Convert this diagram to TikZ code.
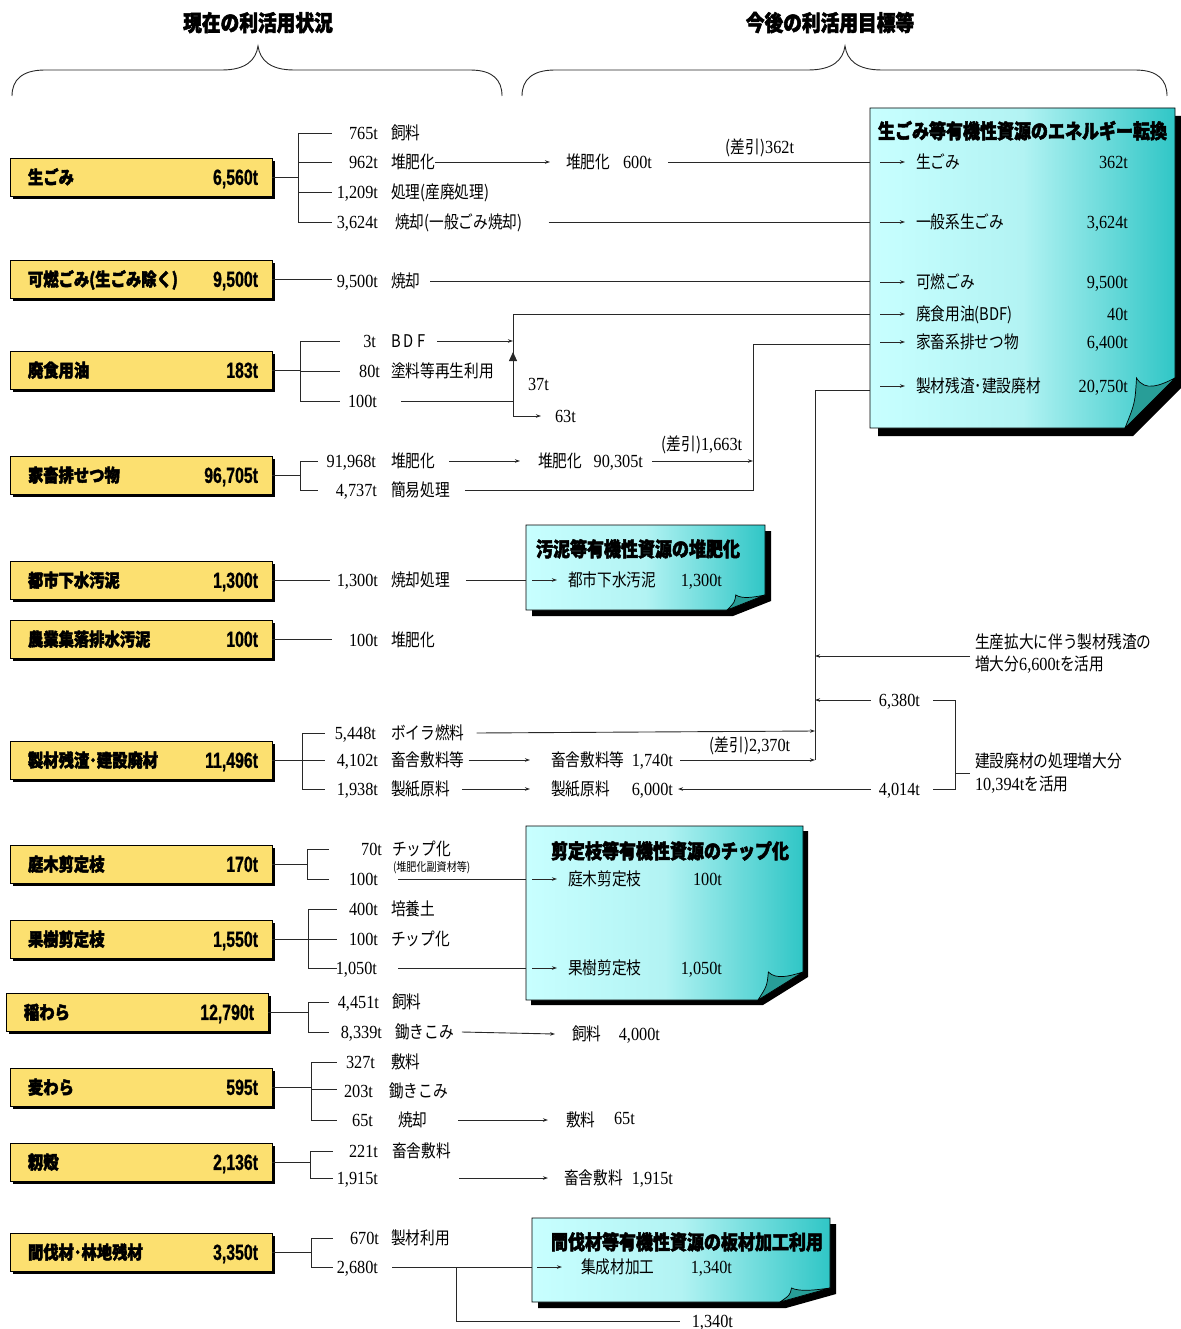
\documentclass[tikz,border=0pt]{standalone}
\usepackage{fontspec}
\usetikzlibrary{arrows.meta,shadows}
\newfontfamily\JPf[FakeStretch=0.84]{Noto Sans CJK JP}
\newfontfamily\JPbf[FakeStretch=0.85,FakeBold=2.4]{Noto Sans CJK JP}
\newfontfamily\NUMf[FakeStretch=0.88]{Liberation Serif}
\newfontfamily\NUMbf[FakeStretch=0.72,FakeBold=0.8]{Liberation Sans}
\newcommand\fJ{\JPf\fontsize{17.5}{17.5}\selectfont}
\newcommand\fJs{\JPf\fontsize{12}{12}\selectfont}
\newcommand\fN{\NUMf\fontsize{18.5}{18.5}\selectfont}
\newcommand\fYB{\JPbf\bfseries\fontsize{18}{18}\selectfont}
\newcommand\fYN{\NUMbf\bfseries\fontsize{22}{22}\selectfont}
\newcommand\fT{\JPbf\bfseries\fontsize{20}{20}\selectfont}
\newcommand\fH{\JPbf\bfseries\fontsize{22}{22}\selectfont}
\definecolor{yfill}{RGB}{252,224,112}
\definecolor{tl}{RGB}{200,255,255}
\definecolor{tm}{RGB}{178,243,243}
\definecolor{tr}{RGB}{48,198,198}
\definecolor{tf}{RGB}{40,158,152}
\definecolor{lnc}{RGB}{40,40,40}

\newcommand\ybx[5]{%
  \node[ybox] (#1) at (#2,#3) {};
  \node[ylab] (#1L) at ([xshift=18pt]#1.west) {#4};
  \node[yval] (#1V) at ([xshift=-14pt]#1.east) {#5};
}
\newcommand\bracket[6]{%
  \coordinate (#1T) at (#2,#3); \coordinate (#1B) at (#2,#4);
  \draw[ln] (#1T) -- (#1B);
  \draw[ln] (#1.east) -- (#1.east -| #1T);
  \foreach \yy [count=\i] in {#5} {
    \coordinate (#1a\i) at (#2,\yy); \coordinate (#1b\i) at (#6,\yy);
    \draw[ln] (#1a\i) -- (#1b\i);
  }
}
\newcommand\nl[6]{%
  \node[nm] (#1n) at (#2,#3) {#4};
  \node[jl] (#1l) at (#5,#3) {#6};
}
\newcommand\tealbox[8]{%
  \fill[black] ({#2+#8},{#3+#8}) -- ({#4+#8},{#3+#8}) -- ({#4+#8},{#5-#7+#8}) -- ({#4-#6+#8},{#5+#8}) -- ({#2+#8},{#5+#8}) -- cycle;
  \shadedraw[left color=tl,right color=tr,middle color=tm,draw=black,line width=0.8pt]
    (#2,#3) -- (#4,#3) -- (#4,{#5-#7}) -- ({#4-#6},#5) -- (#2,#5) -- cycle;
  \filldraw[fill=tf,draw=black,line width=0.7pt]
    ({#4-0.77*#6},{#5-#7}) .. controls ({#4-0.6*#6},{#5-0.72*#7}) and ({#4-0.3*#6},{#5-0.85*#7}) .. (#4,{#5-#7})
    -- ({#4-#6},#5) .. controls ({#4-0.8*#6},{#5-0.5*#7}) .. ({#4-0.77*#6},{#5-#7}) -- cycle;
  \coordinate (#1) at (#2,{(#3+#5)/2});
}
\newcommand\ent[6]{%
  \coordinate (#1a) at (#2,#3); \coordinate (#1b) at ({#2+25},#3);
  \draw[ar] (#1a) -- (#1b);
  \node[jl] (#1l) at ({#2+36},#3) {#4};
  \node[nm] (#1n) at (#5,#3) {#6};
}

\begin{document}
\begin{tikzpicture}[x=1pt,y=-1pt,
  tb/.style={inner sep=0pt,outer sep=0pt},
  ln/.style={line width=0.9pt,draw=lnc},
  ar/.style={ln,-{Stealth[length=5pt,width=3.5pt]}},
  jl/.style={tb,anchor=west,font=\fJ,text height=14.5pt,text depth=1pt},
  jls/.style={tb,anchor=west,font=\fJs,text height=10pt,text depth=1pt},
  nm/.style={tb,anchor=east,font=\fN,text height=12.5pt,text depth=0pt},
  nmw/.style={nm,anchor=west},
  nmc/.style={nm,anchor=center},
  ybox/.style={tb,draw=black,line width=0.8pt,fill=yfill,minimum width=262pt,minimum height=38pt,
     drop shadow={shadow xshift=3pt,shadow yshift=-3pt,fill=black,opacity=1}},
  ylab/.style={tb,anchor=west,font=\fYB,text height=15pt,text depth=1pt},
  yval/.style={tb,anchor=east,font=\fYN,text height=15.8pt,text depth=0pt},
  ttl/.style={tb,anchor=west,font=\fT,text height=16.5pt,text depth=1.5pt},
  hd/.style={tb,anchor=center,font=\fH,text height=18pt,text depth=2pt}]
\useasboundingbox (0,0) rectangle (1180,1329);

% headings and braces
\node[hd] (H1) at (258,23) {現在の利活用状況};
\node[hd] (H2) at (830,23) {今後の利活用目標等};
\draw[ln] (12,96) .. controls (12,80) and (22,70) .. (45,70) -- (222,70) .. controls (246,70) and (256,60) .. (258,46)
  .. controls (260,60) and (270,70) .. (294,70) -- (470,70) .. controls (493,70) and (502,80) .. (502,96);
\draw[ln] (522,96) .. controls (522,80) and (532,70) .. (555,70) -- (808,70) .. controls (833,70) and (843,60) .. (845,46)
  .. controls (847,60) and (857,70) .. (882,70) -- (1135,70) .. controls (1158,70) and (1167,80) .. (1167,96);

% teal boxes
\tealbox{big}{870}{108}{1175}{428}{50}{50}{8}
\tealbox{s1}{526}{525}{765}{610}{38}{15}{6}
\tealbox{s2}{526}{826}{803}{1000}{45}{28}{5}
\tealbox{s3}{532}{1218}{830}{1302}{50}{14}{6}

\node[ttl] (bigT) at (878,131) {生ごみ等有機性資源のエネルギー転換};
\ent{q1}{880}{162}{生ごみ}{1128}{362t}
\ent{q2}{880}{222}{一般系生ごみ}{1128}{3,624t}
\ent{q3}{880}{282}{可燃ごみ}{1128}{9,500t}
\ent{q4}{880}{314}{廃食用油(BDF)}{1128}{40t}
\ent{q5}{880}{342}{家畜系排せつ物}{1128}{6,400t}
\ent{q6}{880}{386}{製材残渣･建設廃材}{1128}{20,750t}

\node[ttl] (s1T) at (536,549) {汚泥等有機性資源の堆肥化};
\ent{r1}{532}{580}{都市下水汚泥}{722}{1,300t}
\node[ttl] (s2T) at (551,851) {剪定枝等有機性資源のチップ化};
\ent{r2}{532}{879}{庭木剪定枝}{722}{100t}
\ent{r3}{532}{968}{果樹剪定枝}{722}{1,050t}
\node[ttl] (s3T) at (551,1242) {間伐材等有機性資源の板材加工利用};
\coordinate (r4a) at (537,1267); \coordinate (r4b) at (562,1267);
\draw[ar] (r4a) -- (r4b);
\node[jl] (r4l) at (581,1267) {集成材加工};
\node[nm] (r4n) at (732,1267) {1,340t};

% yellow boxes
\ybx{g1}{141}{177}{生ごみ}{6,560t}
\ybx{g2}{141}{279}{可燃ごみ(生ごみ除く)}{9,500t}
\ybx{g3}{141}{370}{廃食用油}{183t}
\ybx{g4}{141}{475}{家畜排せつ物}{96,705t}
\ybx{g5}{141}{580}{都市下水汚泥}{1,300t}
\ybx{g6}{141}{639}{農業集落排水汚泥}{100t}
\ybx{g7}{141}{760}{製材残渣･建設廃材}{11,496t}
\ybx{g8}{141}{864}{庭木剪定枝}{170t}
\ybx{g9}{141}{939}{果樹剪定枝}{1,550t}
\ybx{g10}{137}{1012}{稲わら}{12,790t}
\ybx{g11}{141}{1087}{麦わら}{595t}
\ybx{g12}{141}{1162}{籾殻}{2,136t}
\ybx{g13}{141}{1252}{間伐材･林地残材}{3,350t}

% row 1
\bracket{g1}{298}{133}{222}{133,162,192,222}{332}
\nl{a1}{378}{133}{765t}{391}{飼料}
\nl{a2}{378}{162}{962t}{391}{堆肥化}
\nl{a3}{378}{192}{1,209t}{391}{処理(産廃処理)}
\nl{a4}{378}{222}{3,624t}{395}{焼却(一般ごみ焼却)}
\node[jl] (a5l) at (566,162) {堆肥化};
\node[nm] (a5n) at (652,162) {600t};
\node[nmc] (a6) at (760,147) {{\fJ(差引)}362t};
\draw[ar] (a2l.east) -- ([xshift=-16pt]a5l.west);
\draw[ln] ([xshift=16pt]a5n.east) -- (a5n.east -| big);
\draw[ln] ([xshift=26pt]a4l.east) -- (a4l.east -| big);

% row 2
\coordinate (g2e) at (332,279);
\draw[ln] (g2.east) -- (g2e);
\nl{b1}{378}{281}{9,500t}{391}{焼却}
\draw[ln] ([xshift=10pt]b1l.east) -- (b1l.east -| big);

% row 3
\bracket{g3}{300}{341}{401}{341,371,401}{340}
\nl{c1}{376}{341}{3t}{391}{B D F}
\nl{c2}{380}{371}{80t}{391}{塗料等再生利用}
\node[nm] (c3n) at (377,401) {100t};
\coordinate (c4) at (513,314); \coordinate (c5) at (513,416);
\coordinate (c6) at (513,372); \coordinate (c7) at (513,352);
\draw[ln] (c4) -- (c5);
\draw[ar] ([xshift=12pt]c1l.east) -- (c1l.east -| c4);
\draw[ln] ([xshift=24pt]c3n.east) -- (c3n.east -| c4);
\draw[ln,-{Triangle[length=9pt,width=8pt]}] (c6) -- (c7);
\node[nmw] (c8) at (555,416) {63t};
\node[nmw] (c9) at (528,384) {37t};
\draw[ar] (c5) -- ([xshift=-14pt]c8.west);
\draw[ln] (c4) -- (c4 -| big);

% row 4
\bracket{g4}{300}{461}{490}{461,490}{318}
\nl{d1}{376}{461}{91,968t}{391}{堆肥化}
\nl{d2}{377}{490}{4,737t}{391}{簡易処理}
\node[jl] (d3l) at (538,461) {堆肥化};
\node[nm] (d3n) at (643,461) {90,305t};
\coordinate (d4) at (753,461); \coordinate (d5) at (753,490); \coordinate (d6) at (753,344);
\draw[ar] ([xshift=14pt]d1l.east) -- ([xshift=-18pt]d3l.west);
\draw[ar] ([xshift=9pt]d3n.east) -- (d4);
\node[nmc] (d7) at (702,444) {{\fJ(差引)}1,663t};
\draw[ln] ([xshift=15pt]d2l.east) -- (d5) -- (d6) -- (d6 -| big);

% row 5
\coordinate (g5e) at (330,580);
\draw[ln] (g5.east) -- (g5e);
\nl{e1}{378}{580}{1,300t}{391}{焼却処理}
\draw[ln] ([xshift=16pt]e1l.east) -- (e1l.east -| s1);

% row 6
\coordinate (g6e) at (332,639);
\draw[ln] (g6.east) -- (g6e);
\nl{f1}{378}{640}{100t}{391}{堆肥化}

% row 7
\bracket{g7}{302}{733}{789}{733,760,789}{325}
\nl{h1}{376}{733}{5,448t}{391}{ボイラ燃料}
\nl{h2}{378}{760}{4,102t}{391}{畜舎敷料等}
\nl{h3}{378}{789}{1,938t}{391}{製紙原料}
\node[jl] (h4l) at (551,760) {畜舎敷料等};
\node[nm] (h4n) at (673,760) {1,740t};
\node[jl] (h5l) at (551,789) {製紙原料};
\node[nm] (h5n) at (673,789) {6,000t};
\node[nm] (h6) at (920,789) {4,014t};
\node[nm] (h7) at (920,700) {6,380t};
\coordinate (h8) at (815,731); \coordinate (h9) at (815,760); \coordinate (h10) at (815,390);
\draw[ln] (h9) -- (h10) -- (h10 -| big);
\draw[ar] ([xshift=12pt]h1l.east) -- (h8);
\draw[ar] ([xshift=4pt]h2l.east) -- ([xshift=-21pt]h4l.west);
\draw[ar] ([xshift=12pt]h3l.east) -- ([xshift=-21pt]h5l.west);
\draw[ar] ([xshift=7pt]h4n.east) -- (h9);
\node[nmc] (h11) at (750,745) {{\fJ(差引)}2,370t};
\draw[ar] ([xshift=-8pt]h6.west) -- ([xshift=5pt]h5n.east);
\draw[ar] ([xshift=-8pt]h7.west) -- (h7.west -| h9);
\node[jl] (h12) at (975,642) {生産拡大に伴う製材残渣の};
\node[jl] (h13) at (975,664) {増大分{\fN 6,600t}を活用};
\coordinate (h14) at (970,656);
\draw[ar] (h14) -- (h14 -| h9);
\coordinate (h15) at (955,700); \coordinate (h16) at (955,789);
\draw[ln] ([xshift=13pt]h7.east) -- (h15) -- (h16) -- ([xshift=13pt]h6.east);
\coordinate (h17) at (955,773); \coordinate (h18) at (970,773);
\draw[ln] (h17) -- (h18);
\node[jl] (h19) at (975,761) {建設廃材の処理増大分};
\node[jl] (h20) at (975,784) {{\fN 10,394t}を活用};

% row 8
\bracket{g8}{307}{849}{879}{849,879}{329}
\nl{i1}{382}{849}{70t}{392}{チップ化}
\node[jls] (i2) at (393,867) {(堆肥化副資材等)};
\node[nm] (i3) at (378,879) {100t};
\draw[ln] ([xshift=20pt]i3.east) -- (i3.east -| s2);

% row 9
\bracket{g9}{308}{909}{968}{909,939,968}{337}
\nl{j1}{378}{909}{400t}{391}{培養土}
\nl{j2}{378}{939}{100t}{391}{チップ化}
\node[nm] (j3) at (377,968) {1,050t};
\draw[ln] ([xshift=21pt]j3.east) -- (j3.east -| s2);

% row 10
\bracket{g10}{308}{1002}{1032}{1002,1032}{329}
\nl{k1}{379}{1002}{4,451t}{392}{飼料}
\nl{k2}{382}{1032}{8,339t}{395}{鋤きこみ}
\node[jl] (k3l) at (572,1034) {飼料};
\node[nm] (k3n) at (660,1034) {4,000t};
\draw[ar] ([xshift=8pt]k2l.east) -- ([xshift=-17pt]k3l.west);

% row 11
\bracket{g11}{311}{1062}{1120}{1062,1089,1120}{337}
\nl{m1}{375}{1062}{327t}{391}{敷料}
\nl{m2}{373}{1091}{203t}{389}{鋤きこみ}
\nl{m3}{373}{1120}{65t}{398}{焼却}
\node[jl] (m4l) at (566,1120) {敷料};
\node[nmw] (m4n) at (614,1118) {65t};
\draw[ar] ([xshift=31pt]m3l.east) -- ([xshift=-18pt]m4l.west);

% row 12
\bracket{g12}{310}{1151}{1178}{1151,1178}{333}
\nl{o1}{378}{1151}{221t}{392}{畜舎敷料}
\node[nm] (o2) at (378,1178) {1,915t};
\node[jl] (o3l) at (564,1178) {畜舎敷料};
\node[nm] (o3n) at (673,1178) {1,915t};
\draw[ar] ([xshift=81pt]o2.east) -- ([xshift=-16pt]o3l.west);

% row 13
\bracket{g13}{311}{1238}{1267}{1238,1267}{333}
\nl{p1}{379}{1238}{670t}{391}{製材利用}
\node[nm] (p2) at (378,1267) {2,680t};
\coordinate (p3) at (456,1267); \coordinate (p4) at (456,1321); \coordinate (p6) at (680,1321);
\node[nm] (p5) at (733,1321) {1,340t};
\draw[ln] ([xshift=14pt]p2.east) -- (p2.east -| s3);
\draw[ln] (p3) -- (p4) -- (p6);
\end{tikzpicture}
\end{document}
